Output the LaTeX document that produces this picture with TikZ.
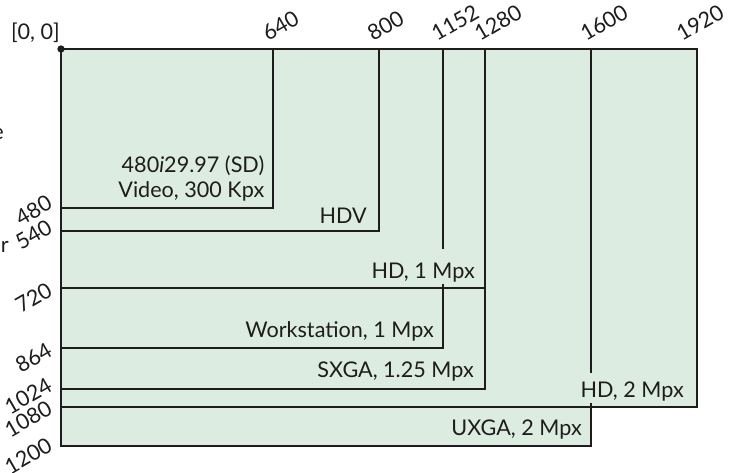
\documentclass[tikz,border=0pt]{standalone}
\usepackage{fontspec}
\setmainfont{Lato}
\definecolor{RSgreen}{RGB}{221,236,224}
\definecolor{RSink}{RGB}{30,28,28}
\newcommand{\rsfont}{\fontsize{16.2}{18.75}\selectfont}
\tikzset{
  frame/.style={draw=RSink,line width=1.8pt,line join=miter},
  res/.style={font=\rsfont,text=RSink,fill=RSgreen,
              inner sep=1.5pt,anchor=base east,align=right},
  plain/.style={font=\rsfont,text=RSink,inner sep=0pt,anchor=base east},
  tick/.style={font=\rsfont,text=RSink,inner sep=0pt,rotate=30},
  htick/.style={tick,anchor=base west},
  vtick/.style={tick,anchor=base east}
}
\begin{document}
\begin{tikzpicture}[x=0.75pt,y=-0.75pt]
  \useasboundingbox (0,0) rectangle (732,472);
  \fill[RSgreen] (61,49) rectangle (697,407);
  \fill[RSgreen] (61,49) rectangle (591,446);
  \draw[frame] (61,49) rectangle (443,348);
  \draw[frame] (61,49) rectangle (591,446);

  \node[res,anchor=south east] (sd) at (266.5,203) {480\textit{i}29.97 (SD)\\Video, 300 Kpx};
  \node[res] (hdv) at (369,223) {HDV};
  \node[res,text height=20pt] (hd1) at (477,278) {HD, 1 Mpx};
  \node[res] (work) at (436,337) {Workstation, 1 Mpx};
  \node[res] (sxga) at (476,377) {SXGA, 1.25 Mpx};
  \node[res,text height=16.5pt] (hd2) at (686,397) {HD, 2 Mpx};
  \node[res] (uxga) at (584,435) {UXGA, 2 Mpx};

  \foreach \w/\h in {697/407,485/389,485/288,379/231,273/208}
    \draw[frame] (61,49) rectangle (\w,\h);

  \node[circle,fill=RSink,inner sep=0pt,minimum size=5.5pt] (origin) at (61,49) {};
  \node[plain] (zero) at (60,39) {[0, 0]};

  \node[htick] (x640) at (268,42) {640};
  \node[htick] (x800) at (373,42) {800};
  \node[htick] (x1152) at (437,42) {1152};
  \node[htick] (x1280) at (480,42) {1280};
  \node[htick] (x1600) at (586,42) {1600};
  \node[htick] (x1920) at (682,42) {1920};

  \node[vtick] (y480) at (54,207.5) {480};
  \node[vtick] (y540) at (54,232) {540};
  \node[vtick] (y720) at (54,295) {720};
  \node[vtick] (y864) at (54,355) {864};
  \node[vtick] (y1024) at (54,390) {1024};
  \node[vtick] (y1080) at (54,413) {1080};
  \node[vtick] (y1200) at (54,450) {1200};

  \node[plain] (cutr) at (9,252) {r};
  \node[plain] (cute) at (4,139) {e};
\end{tikzpicture}
\end{document}
